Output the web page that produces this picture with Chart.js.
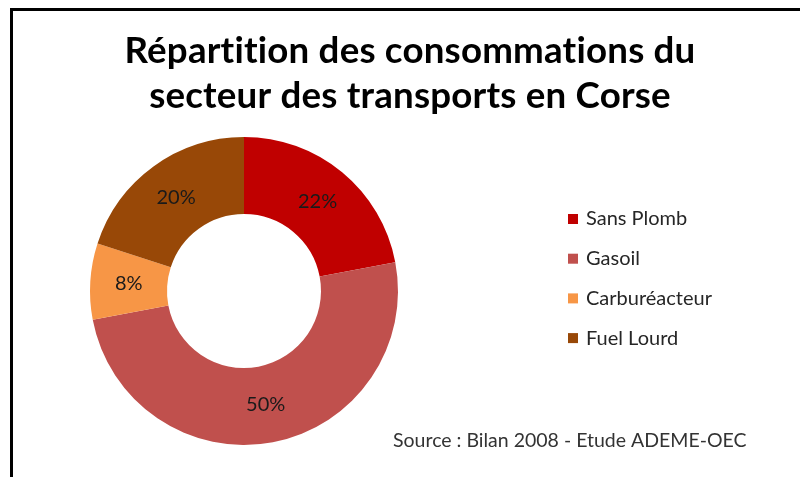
<!DOCTYPE html>
<html>
<head>
<meta charset="utf-8">
<script src="https://cdn.jsdelivr.net/npm/chart.js@4/dist/chart.umd.min.js"></script>
<style>
    html, body { margin: 0; padding: 0; background: #fff; }
    #wrap { position: relative; width: 800px; height: 477px; overflow: hidden; }
    #frame { position: absolute; left: 10px; top: 8px; width: 820px; height: 500px;
             border-left: 3px solid #000; border-top: 3px solid #000; }
    #pieChart { position: absolute; left: 0; top: 0; }
</style>
</head>
<body>
<div id="wrap">
    <div id="frame"></div>
    <canvas id="pieChart" width="800" height="477"></canvas>
</div>
<script>
const chartTitle = ['Répartition des consommations du', 'secteur des transports en Corse'];
const chartLabels = ['Sans Plomb', 'Gasoil', 'Carburéacteur', 'Fuel Lourd'];
const chartData = [22, 50, 8, 20];
const chartColors = ['#C00000', '#C0504D', '#F79646', '#984807'];
const sourceText = 'Source : Bilan 2008 - Etude ADEME-OEC';

const FONT = 'Lato, "Open Sans", sans-serif';

// percent labels in the middle of each ring segment
const sliceLabels = {
    id: 'sliceLabels',
    afterDatasetsDraw(chart) {
        const ctx = chart.ctx;
        const meta = chart.getDatasetMeta(0);
        const total = chartData.reduce((pv, cv) => pv + cv, 0);
        ctx.save();
        ctx.font = '20px ' + FONT;
        ctx.fillStyle = '#1a1a1a';
        ctx.textAlign = 'center';
        ctx.textBaseline = 'middle';
        meta.data.forEach(function (arc, index) {
            const pos = arc.tooltipPosition();
            const pct = Math.round(chartData[index] / total * 100);
            ctx.fillText(pct + '%', pos.x, pos.y);
        });
        ctx.restore();
    }
};

// title, legend on the right and source note at the bottom
const chartTexts = {
    id: 'chartTexts',
    afterDraw(chart) {
        const ctx = chart.ctx;
        ctx.save();
        // small letter spacing keeps "ti" from turning into a ligature
        if ('letterSpacing' in ctx) ctx.letterSpacing = '0.2px';
        // title: size fitted so the first line is as wide as in the original
        ctx.font = 'bold 34px ' + FONT;
        const size = 34 * 572 / ctx.measureText(chartTitle[0]).width;
        ctx.font = 'bold ' + size.toFixed(1) + 'px ' + FONT;
        ctx.fillStyle = '#000';
        ctx.textAlign = 'center';
        ctx.textBaseline = 'alphabetic';
        ctx.fillText(chartTitle[0], 410, 63);
        ctx.fillText(chartTitle[1], 410, 108);
        if ('letterSpacing' in ctx) ctx.letterSpacing = '0px';

        ctx.font = '20px ' + FONT;
        ctx.textBaseline = 'middle';
        ctx.textAlign = 'left';
        chartLabels.forEach(function (label, index) {
            const y = 219 + index * 39.7;
            ctx.fillStyle = chartColors[index];
            ctx.fillRect(568, y - 5, 10, 10);
            ctx.fillStyle = '#262626';
            ctx.fillText(label, 586, y);
        });
        ctx.font = '19.5px ' + FONT;
        ctx.fillStyle = '#333';
        ctx.fillText(sourceText, 393, 441);
        ctx.restore();
    }
};

const chart = new Chart(document.getElementById('pieChart').getContext('2d'), {
    type: 'doughnut',
    data: {
        labels: chartLabels,
        datasets: [{
            data: chartData,
            backgroundColor: chartColors,
            borderWidth: 0
        }]
    },
    options: {
        responsive: false,
        animation: false,
        cutout: '50%',
        layout: {
            padding: { top: 137, left: 88, right: 400, bottom: 32 }
        },
        plugins: {
            legend: { display: false },
            tooltip: { enabled: false },
            title: { display: false }
        }
    },
    plugins: [sliceLabels, chartTexts]
});
</script>
</body>
</html>
